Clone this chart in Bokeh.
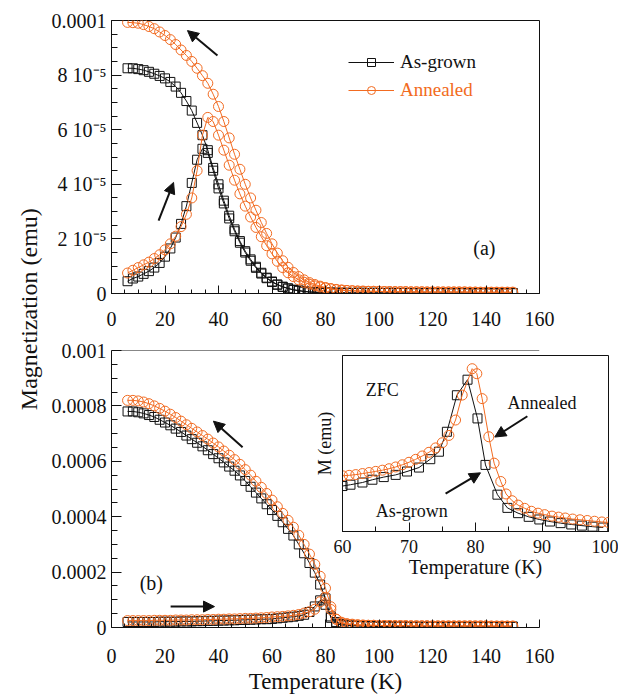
from bokeh.plotting import figure
from bokeh.models import (Range1d, Span, Label, Arrow, NormalHead, Legend, LegendItem,
                          GridBox, FixedTicker, CustomJSTickFormatter)
from bokeh.embed import file_html
from bokeh.resources import INLINE

FONT = "Liberation Serif"
ORANGE = "#F26B21"
BLACK = "#111111"

# ---------------- data: panel (a), low field, values in units of 1e-5 emu -------------
T = list(range(6, 152, 2))

ag_fc_a = [8.25, 8.25, 8.22, 8.18, 8.12, 8.05, 7.97, 7.88, 7.75, 7.58,
           7.35, 7.05, 6.7, 6.25, 5.8, 5.25, 4.6, 4.0, 3.4, 2.85,
           2.35, 1.92, 1.55, 1.25, 0.98, 0.76, 0.58, 0.44, 0.33, 0.25,
           0.19, 0.14, 0.11, 0.08, 0.06, 0.05, 0.04, 0.03,
           0.03, 0.03, 0.02, 0.03, 0.02, 0.02, 0.03, 0.02, 0.02, 0.02,
           0.02, 0.03, 0.02, 0.02, 0.02, 0.02, 0.02, 0.02, 0.02, 0.02,
           0.02, 0.02, 0.02, 0.02, 0.02, 0.02, 0.02, 0.02, 0.02, 0.02,
           0.02, 0.02, 0.02, 0.02, 0.02]
ag_zfc_a = [0.45, 0.55, 0.62, 0.72, 0.82, 0.95, 1.12, 1.35, 1.65, 2.05,
            2.55, 3.2, 4.05, 4.9, 5.3, 5.15, 4.5, 3.85, 3.3, 2.75,
            2.28, 1.86, 1.5, 1.2, 0.94, 0.73, 0.56, 0.42, 0.32, 0.24,
            0.18, 0.13, 0.1, 0.07, 0.05, 0.04, 0.03, 0.03,
            0.03, 0.02, 0.03, 0.02, 0.02, 0.03, 0.02, 0.02, 0.03, 0.02,
            0.02, 0.02, 0.02, 0.02, 0.02, 0.02, 0.01, 0.02, 0.02, 0.01,
            0.02, 0.02, 0.01, 0.01, 0.02, 0.01, 0.01, 0.01, 0.01, 0.01,
            0.01, 0.01, 0.01, 0.01, 0.01]
an_fc_a = [9.93, 9.92, 9.9, 9.85, 9.78, 9.7, 9.58, 9.45, 9.3, 9.12,
           8.92, 8.72, 8.5, 8.25, 7.98, 7.7, 7.3, 6.85, 6.3, 5.7,
           5.1, 4.55, 4.0, 3.5, 3.05, 2.6, 2.2, 1.82, 1.48, 1.2,
           0.96, 0.77, 0.62, 0.5, 0.4, 0.33, 0.27, 0.22,
           0.18, 0.15, 0.13, 0.11, 0.1, 0.09, 0.09, 0.08, 0.08, 0.08,
           0.07, 0.07, 0.07, 0.07, 0.07, 0.06, 0.06, 0.06, 0.06, 0.06,
           0.06, 0.06, 0.06, 0.06, 0.06, 0.06, 0.05, 0.05, 0.05, 0.05,
           0.05, 0.05, 0.05, 0.05, 0.05]
an_zfc_a = [0.75, 0.85, 0.95, 1.05, 1.15, 1.28, 1.42, 1.6, 1.82, 2.1,
            2.45, 2.9, 3.5, 4.5, 5.8, 6.45, 6.3, 5.8, 5.25, 4.7,
            4.15, 3.65, 3.2, 2.8, 2.42, 2.08, 1.75, 1.45, 1.18, 0.95,
            0.76, 0.62, 0.5, 0.41, 0.34, 0.28, 0.24, 0.2,
            0.17, 0.14, 0.12, 0.11, 0.1, 0.09, 0.08, 0.08, 0.08, 0.07,
            0.07, 0.07, 0.06, 0.06, 0.06, 0.06, 0.06, 0.06, 0.05, 0.05,
            0.05, 0.05, 0.05, 0.05, 0.05, 0.05, 0.05, 0.05, 0.04, 0.04,
            0.04, 0.04, 0.04, 0.04, 0.04]

# ---------------- data: panel (b), high field, values in units of 1e-4 emu ------------
ag_fc_b = [7.8, 7.8, 7.77, 7.73, 7.67, 7.6, 7.5, 7.4, 7.3, 7.18,
           7.06, 6.93, 6.8, 6.67, 6.54, 6.4, 6.26, 6.11, 5.96, 5.81,
           5.66, 5.49, 5.29, 5.08, 4.87, 4.66, 4.45, 4.24, 4.03, 3.8,
           3.56, 3.32, 3.0, 2.68, 2.33, 1.98, 1.55, 1.05,
           0.35, 0.14, 0.09, 0.07, 0.06, 0.05, 0.05, 0.05, 0.04, 0.04,
           0.04, 0.04, 0.04, 0.04, 0.04, 0.03, 0.03, 0.03, 0.03, 0.03,
           0.03, 0.03, 0.03, 0.03, 0.03, 0.03, 0.03, 0.03, 0.03, 0.03,
           0.03, 0.03, 0.03, 0.03, 0.03]
an_fc_b = [8.2, 8.2, 8.18, 8.14, 8.08, 8.0, 7.91, 7.81, 7.7, 7.58,
           7.45, 7.32, 7.19, 7.06, 6.93, 6.8, 6.66, 6.52, 6.37, 6.22,
           6.06, 5.89, 5.7, 5.5, 5.28, 5.06, 4.84, 4.6, 4.36, 4.12,
           3.87, 3.62, 3.33, 3.0, 2.65, 2.28, 1.85, 1.42,
           0.75, 0.3, 0.16, 0.12, 0.1, 0.09, 0.08, 0.08, 0.08, 0.07,
           0.07, 0.07, 0.07, 0.07, 0.07, 0.06, 0.06, 0.06, 0.06, 0.06,
           0.06, 0.06, 0.06, 0.06, 0.06, 0.06, 0.06, 0.06, 0.06, 0.06,
           0.05, 0.05, 0.05, 0.05, 0.05]
ag_zfc_b = [0.2, 0.2, 0.2, 0.2, 0.2, 0.2, 0.21, 0.21, 0.21, 0.21,
            0.22, 0.22, 0.22, 0.23, 0.23, 0.24, 0.24, 0.25, 0.25, 0.26,
            0.26, 0.27, 0.28, 0.28, 0.29, 0.3, 0.3, 0.31, 0.33, 0.35,
            0.37, 0.39, 0.42, 0.46, 0.56, 0.76, 0.98, 0.82,
            0.4, 0.2, 0.13, 0.1, 0.08, 0.07, 0.06, 0.05, 0.05, 0.04,
            0.04, 0.04, 0.04, 0.03, 0.03, 0.03, 0.03, 0.03, 0.03, 0.03,
            0.03, 0.03, 0.03, 0.03, 0.03, 0.03, 0.03, 0.03, 0.03, 0.03,
            0.03, 0.03, 0.03, 0.03, 0.03]
an_zfc_b = [0.25, 0.25, 0.25, 0.25, 0.25, 0.26, 0.26, 0.26, 0.26, 0.27,
            0.27, 0.27, 0.28, 0.28, 0.28, 0.29, 0.29, 0.3, 0.3, 0.31,
            0.31, 0.32, 0.33, 0.33, 0.34, 0.35, 0.36, 0.38, 0.39, 0.4,
            0.42, 0.44, 0.47, 0.52, 0.57, 0.66, 0.93, 1.09,
            0.65, 0.3, 0.19, 0.14, 0.12, 0.1, 0.09, 0.08, 0.08, 0.07,
            0.07, 0.07, 0.06, 0.06, 0.06, 0.06, 0.06, 0.06, 0.06, 0.05,
            0.05, 0.05, 0.05, 0.05, 0.05, 0.05, 0.05, 0.05, 0.05, 0.05,
            0.05, 0.05, 0.05, 0.05, 0.05]

# ---------------- data: inset (ZFC), values in units of 1e-4 emu ----------------------
T_in_ag = [60.0, 61.2, 63.0, 64.5, 66.2, 68.0, 69.7, 71.5, 73.2, 74.5, 75.7, 77.2,
           78.8, 80.3, 81.5, 83.3, 84.8, 86.4, 88.0, 89.6, 91.2, 92.8, 94.4, 96.0,
           97.6, 99.2]
M_in_ag = [0.31, 0.319, 0.334, 0.353, 0.371, 0.386, 0.409, 0.436, 0.493, 0.544, 0.68, 0.929,
           1.035, 0.771, 0.454, 0.251, 0.161, 0.125, 0.1, 0.082, 0.068, 0.057, 0.048, 0.04,
           0.033, 0.027]
T_in_an = [60, 61, 62, 63, 64, 65, 66, 67, 68, 69, 70, 71, 72, 73, 74, 75, 76, 77, 78,
           79.5, 80.2, 81, 82, 82.8, 83.8, 84.6, 85.5, 86.4, 87.4, 88.4, 89.4, 90.4,
           91.5, 92.5, 93.5, 94.6, 95.7, 96.8, 97.9, 99.0, 100]
M_in_an = [0.38, 0.383, 0.388, 0.395, 0.402, 0.41, 0.418, 0.428, 0.44, 0.455, 0.472, 0.492,
           0.515, 0.54, 0.57, 0.605, 0.655, 0.76, 0.93, 1.11, 1.076, 0.906, 0.646, 0.466,
           0.341, 0.256, 0.21, 0.18, 0.158, 0.138, 0.125, 0.115, 0.105, 0.098, 0.092,
           0.085, 0.08, 0.075, 0.07, 0.065, 0.062]

top_ylabels = ["0", "2 10\u207b\u2075", "4 10\u207b\u2075", "6 10\u207b\u2075", "8 10\u207b\u2075", "0.0001"]
bot_ylabels = ["0", "0.0002", "0.0004", "0.0006", "0.0008", "0.001"]

for arr in (ag_fc_a, ag_zfc_a, an_fc_a, an_zfc_a, ag_fc_b, an_fc_b, ag_zfc_b, an_zfc_b):
    assert len(arr) == len(T), len(arr)
assert len(T_in_ag) == len(M_in_ag) and len(T_in_an) == len(M_in_an)

E5 = 1e-5
E4 = 1e-4
SQ, CI = 9, 10


def base_fig(**kw):
    p = figure(toolbar_location=None, output_backend="svg", background_fill_color="white",
               border_fill_color="white", **kw)
    p.grid.visible = False
    return p


def style_axis(ax, size="20px", major_in=8, minor_in=4, standoff=5):
    ax.axis_line_color = BLACK
    ax.axis_line_width = 1
    ax.major_tick_line_color = BLACK
    ax.minor_tick_line_color = BLACK
    ax.major_tick_in = major_in
    ax.major_tick_out = 0
    ax.minor_tick_in = minor_in
    ax.minor_tick_out = 0
    ax.major_label_text_font = FONT
    ax.major_label_text_font_size = size
    ax.major_label_text_color = BLACK
    ax.major_label_standoff = standoff
    ax.axis_label_text_font = FONT
    ax.axis_label_text_font_style = "normal"
    ax.axis_label_text_color = BLACK


xt_major = [0, 20, 40, 60, 80, 100, 120, 140, 160]
xt_minor = [v for v in range(0, 161, 5) if v % 20]


def add_series(p, x, y, scale, color, marker, size):
    ys = [v * scale for v in y]
    l = p.line(x, ys, line_color=color, line_width=1)
    s = p.scatter(x, ys, marker=marker, size=size, line_color=color, fill_color=None, line_width=1)
    return l, s


def arrow(p, x0, y0, x1, y1):
    p.add_layout(Arrow(end=NormalHead(size=11, fill_color=BLACK, line_color=BLACK, line_width=1),
                       x_start=x0, y_start=y0, x_end=x1, y_end=y1,
                       line_color=BLACK, line_width=2))


def text(p, x, y, s, size="20px", align="center", color=BLACK):
    p.add_layout(Label(x=x, y=y, text=s, text_font=FONT, text_font_size=size,
                       text_color=color, text_align=align, text_baseline="middle"))


# ---------------- panel (a) ----------------
pa = base_fig(width=582, height=338, x_range=Range1d(0, 160), y_range=Range1d(0, 1e-4),
              min_border_left=67, min_border_right=87, min_border_top=20, min_border_bottom=45,
              outline_line_color=BLACK)
style_axis(pa.xaxis[0], standoff=18)
style_axis(pa.yaxis[0], major_in=10, minor_in=6, standoff=5)
pa.xaxis[0].ticker = FixedTicker(ticks=xt_major, minor_ticks=xt_minor)
pa.yaxis[0].ticker = FixedTicker(ticks=[0, 2e-5, 4e-5, 6e-5, 8e-5, 1e-4],
                                 minor_ticks=[i * 0.5e-5 for i in range(21) if i % 4])
pa.yaxis[0].formatter = CustomJSTickFormatter(args=dict(labels=top_ylabels),
                                              code="return labels[Math.round(tick/2e-5)];")

lb1, sb1 = add_series(pa, T, ag_zfc_a, E5, BLACK, "square", SQ)
add_series(pa, T, ag_fc_a, E5, BLACK, "square", SQ)
lo1, so1 = add_series(pa, T, an_zfc_a, E5, ORANGE, "circle", CI)
add_series(pa, T, an_fc_a, E5, ORANGE, "circle", CI)

for item, loc, col in (([LegendItem(label="As-grown", renderers=[lb1, sb1])], (237, 220), BLACK),
                       ([LegendItem(label="Annealed", renderers=[lo1, so1])], (237, 192), ORANGE)):
    leg = Legend(items=item, location=loc, border_line_color=None, background_fill_alpha=0,
                 padding=0, margin=0, spacing=0, glyph_width=46, glyph_height=20,
                 label_standoff=6, label_text_font=FONT, label_text_font_size="19px",
                 label_text_color=col, label_height=20)
    pa.add_layout(leg)

arrow(pa, 39.6, 0.872e-4, 28.4, 0.963e-4)
arrow(pa, 17.6, 0.267e-4, 23.2, 0.407e-4)
text(pa, 139.4, 1.65e-5, "(a)")

# ---------------- panel (b) ----------------
pb = base_fig(width=582, height=358, x_range=Range1d(0, 160), y_range=Range1d(0, 1e-3),
              min_border_left=67, min_border_right=73, min_border_top=12, min_border_bottom=68,
              outline_line_color=None)
style_axis(pb.xaxis[0], standoff=21)
style_axis(pb.yaxis[0], major_in=10, minor_in=6, standoff=5)
pb.xaxis[0].ticker = FixedTicker(ticks=xt_major, minor_ticks=xt_minor)
pb.yaxis[0].ticker = FixedTicker(ticks=[0, 2e-4, 4e-4, 6e-4, 8e-4, 1e-3],
                                 minor_ticks=[i * 0.5e-4 for i in range(21) if i % 4])
pb.yaxis[0].formatter = CustomJSTickFormatter(args=dict(labels=bot_ylabels),
                                              code="return labels[Math.round(tick/2e-4)];")
pb.xaxis[0].axis_label = "Temperature (K)"
pb.xaxis[0].axis_label_text_font_size = "23px"
pb.xaxis[0].axis_label_standoff = 3
pb.add_layout(Span(location=1e-3, dimension="width", line_color=BLACK, line_width=1))

add_series(pb, T, ag_fc_b, E4, BLACK, "square", SQ)
add_series(pb, T, ag_zfc_b, E4, BLACK, "square", SQ)
add_series(pb, T, an_fc_b, E4, ORANGE, "circle", CI)
add_series(pb, T, an_zfc_b, E4, ORANGE, "circle", CI)

arrow(pb, 49.0, 0.651e-3, 38.1, 0.745e-3)
arrow(pb, 22.1, 0.0755e-3, 38.5, 0.0755e-3)
text(pb, 14.9, 0.162e-3, "(b)")

# ---------------- inset ----------------
pi = base_fig(frame_width=266, frame_height=177, x_range=Range1d(60, 100), y_range=Range1d(0, 1.2e-4),
              min_border_left=42, min_border_right=10, min_border_top=5, min_border_bottom=40,
              outline_line_color=BLACK)
pi.border_fill_alpha = 0
style_axis(pi.xaxis[0], size="18px", major_in=9, minor_in=5, standoff=8)
style_axis(pi.yaxis[0], size="18px", standoff=4)
pi.xaxis[0].ticker = FixedTicker(ticks=[60, 70, 80, 90, 100], minor_ticks=[65, 75, 85, 95])
pi.yaxis[0].ticker = FixedTicker(ticks=[], minor_ticks=[])
pi.xaxis[0].axis_label = "Temperature (K)"
pi.xaxis[0].axis_label_text_font_size = "20px"
pi.xaxis[0].axis_label_standoff = 0
pi.yaxis[0].axis_label = "M (emu)"
pi.yaxis[0].axis_label_text_font_size = "18px"
pi.yaxis[0].axis_label_standoff = 8

add_series(pi, T_in_ag, M_in_ag, E4, BLACK, "square", SQ)
add_series(pi, T_in_an, M_in_an, E4, ORANGE, "circle", CI)
arrow(pi, 87.8, 0.786e-4, 82.9, 0.644e-4)
arrow(pi, 75.5, 0.258e-4, 80.75, 0.40e-4)
text(pi, 63.5, 0.963e-4, "ZFC", size="18px", align="left")
text(pi, 84.8, 0.875e-4, "Annealed", size="18px", align="left")
text(pi, 65.0, 0.142e-4, "As-grown", size="18px", align="left")

# ---------------- shared y label (its own narrow strip, 1 data unit = 1 px) ----------------
lab = figure(width=44, height=696, x_range=Range1d(0, 44), y_range=Range1d(0, 696), title=None,
             x_axis_type=None, y_axis_type=None, toolbar_location=None, output_backend="svg",
             min_border=0, outline_line_color=None)
lab.grid.visible = False
lab.add_layout(Label(x=28, y=365, text="Magnetization (emu)",
                     angle=90, angle_units="deg", text_align="center", text_baseline="middle",
                     text_font=FONT, text_font_size="24px", text_color=BLACK))

grid = GridBox(children=[(lab, 0, 0, 4, 1), (pa, 0, 1, 1, 2), (pb, 1, 1, 3, 2), (pi, 2, 2)],
               cols=["44px", "256px", "326px"], rows=["338px", "12px", "230px", "116px"])

open("out.html", "w").write(file_html(grid, INLINE, "Magnetization"))
